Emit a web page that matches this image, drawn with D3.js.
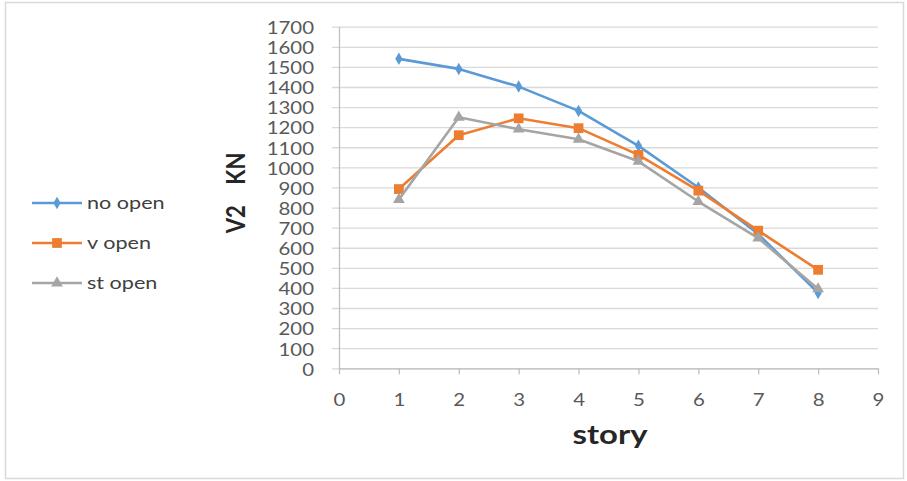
<!DOCTYPE html>
<html>
<head>
<meta charset="utf-8">
<script src="https://cdn.jsdelivr.net/npm/d3@7/dist/d3.min.js"></script>
<style>
  html, body { margin: 0; padding: 0; background: #fff; }
  svg { display: block; }
</style>
</head>
<body>
<svg id="chart" width="907" height="481"></svg>
<script>
// Story numbers along the x axis
const stories = [1, 2, 3, 4, 5, 6, 7, 8];
// Storey shear V2 (kN) for each opening case
const noOpen = [1540, 1490, 1402, 1281, 1107, 900, 668, 375];
const vOpen  = [892, 1160, 1244, 1195, 1062, 884, 685, 490];
const stOpen = [840, 1249, 1190, 1140, 1030, 830, 648, 395];
const seriesNames = ["no open", "v open", "st open"];
const xTicks = [0, 1, 2, 3, 4, 5, 6, 7, 8, 9];
const yTicks = d3.range(0, 1701, 100);

const colors = ["#5b9bd5", "#ed7d31", "#a5a5a5"];
const symbols = [d3.symbolDiamond, d3.symbolSquare, d3.symbolTriangle];
const symbolSizes = [45, 95, 60];

const svg = d3.select("#chart");
const W = 907, H = 481;
const font = "Lato, 'Open Sans', sans-serif";
const stretch = 1.2; // wide lettering of the labels

// outer chart frame
svg.append("rect")
  .attr("x", 5.5).attr("y", 2.5)
  .attr("width", W - 9).attr("height", H - 5)
  .attr("fill", "#fff").attr("stroke", "#d9d9d9").attr("stroke-width", 1.5);

const x = d3.scaleLinear().domain([0, 9]).range([339, 878]);
const y = d3.scaleLinear().domain([0, 1700]).range([368.3, 26.7]);

// horizontal gridlines with left tick marks
svg.append("g")
  .attr("transform", `translate(${x(9)},0)`)
  .call(d3.axisLeft(y).tickValues(yTicks).tickSize(x(9) - x(0) + 7).tickFormat(""))
  .call(g => g.select(".domain").remove())
  .call(g => g.selectAll(".tick line").attr("stroke", "#d9d9d9").attr("stroke-width", 1.3));

// y axis line and labels
const yAxis = svg.append("g")
  .attr("transform", `translate(${x(0)},0)`)
  .call(d3.axisLeft(y).tickValues(yTicks).tickSize(0).tickPadding(25).tickFormat(d3.format("d")));
yAxis.select(".domain").attr("stroke", "#bfbfbf").attr("stroke-width", 1.3);
yAxis.selectAll(".tick text")
  .attr("x", -25 / stretch)
  .attr("dy", "0.4em")
  .attr("transform", `scale(${stretch},1)`)
  .attr("fill", "#595959").attr("font-family", font).attr("font-size", 17);

// x axis
const xAxis = svg.append("g")
  .attr("transform", `translate(0,${y(0)})`)
  .call(d3.axisBottom(x).tickValues(xTicks).tickSize(6).tickSizeOuter(0).tickPadding(20).tickFormat(d3.format("d")));
xAxis.select(".domain").attr("stroke", "#bfbfbf").attr("stroke-width", 1.3);
xAxis.selectAll(".tick line").attr("stroke", "#bfbfbf").attr("stroke-width", 1.3);
xAxis.selectAll(".tick text")
  .attr("transform", `scale(${stretch},1)`)
  .attr("fill", "#595959").attr("font-family", font).attr("font-size", 17);

// axis titles
svg.append("text")
  .attr("x", 610).attr("y", 444)
  .attr("text-anchor", "middle")
  .attr("font-family", font).attr("font-weight", "bold").attr("font-size", 26)
  .attr("textLength", 75).attr("lengthAdjust", "spacingAndGlyphs")
  .attr("fill", "#262626")
  .text("story");

svg.append("text")
  .attr("transform", `translate(245,193) rotate(-90) scale(1,${stretch})`)
  .attr("text-anchor", "middle")
  .attr("font-family", font).attr("font-weight", "bold").attr("font-size", 22)
  .attr("word-spacing", "5px")
  .attr("fill", "#262626")
  .attr("xml:space", "preserve")
  .text("V2  KN");

// series lines and markers
const allSeries = [noOpen, vOpen, stOpen];
const line = d3.line().x(d => x(d[0])).y(d => y(d[1]));

allSeries.forEach((vals, i) => {
  const pts = stories.map((s, j) => [s, vals[j]]);
  const g = svg.append("g");
  g.append("path")
    .datum(pts)
    .attr("d", line)
    .attr("fill", "none")
    .attr("stroke", colors[i])
    .attr("stroke-width", 2.6)
    .attr("stroke-linejoin", "round");
  g.selectAll("path.m")
    .data(pts)
    .join("path")
    .attr("class", "m")
    .attr("transform", d => `translate(${x(d[0])},${y(d[1])})`)
    .attr("d", d3.symbol().type(symbols[i]).size(symbolSizes[i]))
    .attr("fill", colors[i]);
});

// legend
const legend = svg.append("g");
seriesNames.forEach((name, i) => {
  const ly = 203 + i * 40;
  legend.append("line")
    .attr("x1", 32).attr("x2", 82).attr("y1", ly).attr("y2", ly)
    .attr("stroke", colors[i]).attr("stroke-width", 2.6);
  legend.append("path")
    .attr("transform", `translate(57,${ly})`)
    .attr("d", d3.symbol().type(symbols[i]).size(symbolSizes[i]))
    .attr("fill", colors[i]);
  legend.append("text")
    .attr("x", 87 / stretch).attr("y", ly)
    .attr("dy", "0.35em")
    .attr("transform", `scale(${stretch},1)`)
    .attr("font-family", font).attr("font-size", 18)
    .attr("fill", "#404040")
    .text(name);
});
</script>
</body>
</html>
